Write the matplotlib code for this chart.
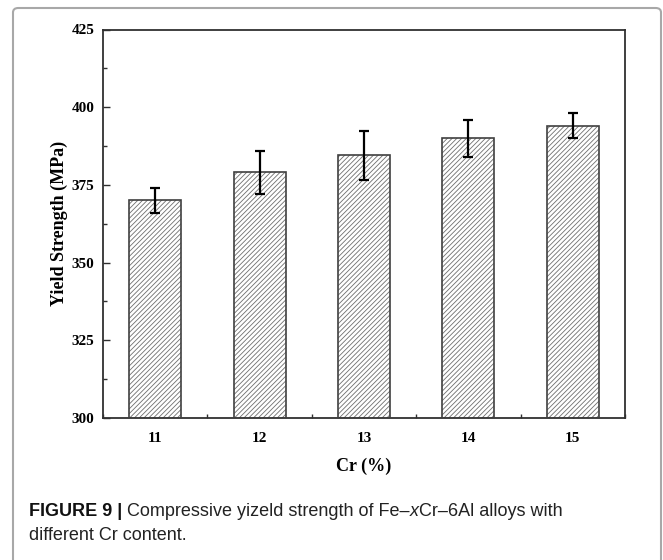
import matplotlib
matplotlib.use("Agg")
import matplotlib.pyplot as plt
from matplotlib.patches import FancyBboxPatch
from matplotlib.ticker import MultipleLocator

cr_content = [11, 12, 13, 14, 15]
yield_strength = [370, 379, 384.5, 390, 394]
yield_err = [4, 7, 8, 6, 4]
y_ticks = [300, 325, 350, 375, 400, 425]

plt.rcParams["hatch.linewidth"] = 0.6

fig = plt.figure(figsize=(6.63, 5.60), dpi=100)
fig.patch.set_facecolor("white")

# outer rounded frame
frame = FancyBboxPatch((13 / 663, -0.1), (661 - 13) / 663, (560 - 8) / 560 + 0.1,
                       boxstyle="round,pad=0,rounding_size=0.008",
                       transform=fig.transFigure, facecolor="none",
                       edgecolor="#a8a8a8", linewidth=1.5, zorder=0)
fig.patches.append(frame)

ax = fig.add_axes([103 / 663, 1 - 418 / 560, (625 - 103) / 663, (418 - 29.5) / 560])

serif = "Liberation Serif"
ax.bar(cr_content, yield_strength, width=0.5, color="white", edgecolor="#6e6e6e",
       linewidth=0, hatch="///////", zorder=2)
ax.bar(cr_content, yield_strength, width=0.5, color="none", edgecolor="#404040",
       linewidth=1.2, zorder=3)
ax.errorbar(cr_content, yield_strength, yerr=yield_err, fmt="none", ecolor="black",
            elinewidth=1.6, capsize=3.8, capthick=1.6, zorder=4)

ax.set_xlim(10.5, 15.5)
ax.set_ylim(300, 425)
ax.set_xticks(cr_content)
ax.set_yticks(y_ticks)
ax.xaxis.set_minor_locator(MultipleLocator(0.5))
ax.yaxis.set_minor_locator(MultipleLocator(12.5))
ax.tick_params(which="both", direction="in", top=False, right=False, width=1.0,
               color="#303030", zorder=5)
ax.tick_params(which="major", length=5)
ax.tick_params(axis="y", which="major", pad=6)
ax.tick_params(axis="x", which="major", pad=10)
ax.tick_params(which="minor", length=3)
for lab in ax.get_xticklabels() + ax.get_yticklabels():
    lab.set_fontfamily(serif)
    lab.set_fontweight("bold")
    lab.set_fontsize(11)
for sp in ax.spines.values():
    sp.set_linewidth(1.3)
    sp.set_color("#303030")

ax.set_xlabel("Cr (%)", fontfamily=serif, fontweight="bold", fontsize=13, labelpad=9)
ax.set_ylabel("Yield Strength (MPa)", fontfamily=serif, fontweight="bold", fontsize=13,
              labelpad=3)

# caption
cap_font = "Liberation Sans"
fs = 13
fig.canvas.draw()
r = fig.canvas.get_renderer()
x0 = 29 / 663
y1 = 1 - 511 / 560
t1 = fig.text(x0, y1, "FIGURE 9 | ", fontfamily=cap_font, fontweight="bold",
              fontsize=fs, color="#111111", va="center")
bb = t1.get_window_extent(renderer=r)
xa = bb.x1 / fig.bbox.width
t2 = fig.text(xa, y1, "Compressive yizeld strength of Fe\u2013", fontfamily=cap_font,
              fontsize=fs, color="#222222", va="center")
bb = t2.get_window_extent(renderer=r)
xb = bb.x1 / fig.bbox.width
t3 = fig.text(xb, y1, "x", fontfamily=cap_font, fontstyle="italic",
              fontsize=fs, color="#222222", va="center")
bb = t3.get_window_extent(renderer=r)
xc = bb.x1 / fig.bbox.width
fig.text(xc, y1, "Cr\u20136Al alloys with", fontfamily=cap_font,
         fontsize=fs, color="#222222", va="center")
fig.text(x0, 1 - 535 / 560, "different Cr content.", fontfamily=cap_font,
         fontsize=fs, color="#222222", va="center")

fig.savefig("out.png", dpi=100, facecolor="white")
